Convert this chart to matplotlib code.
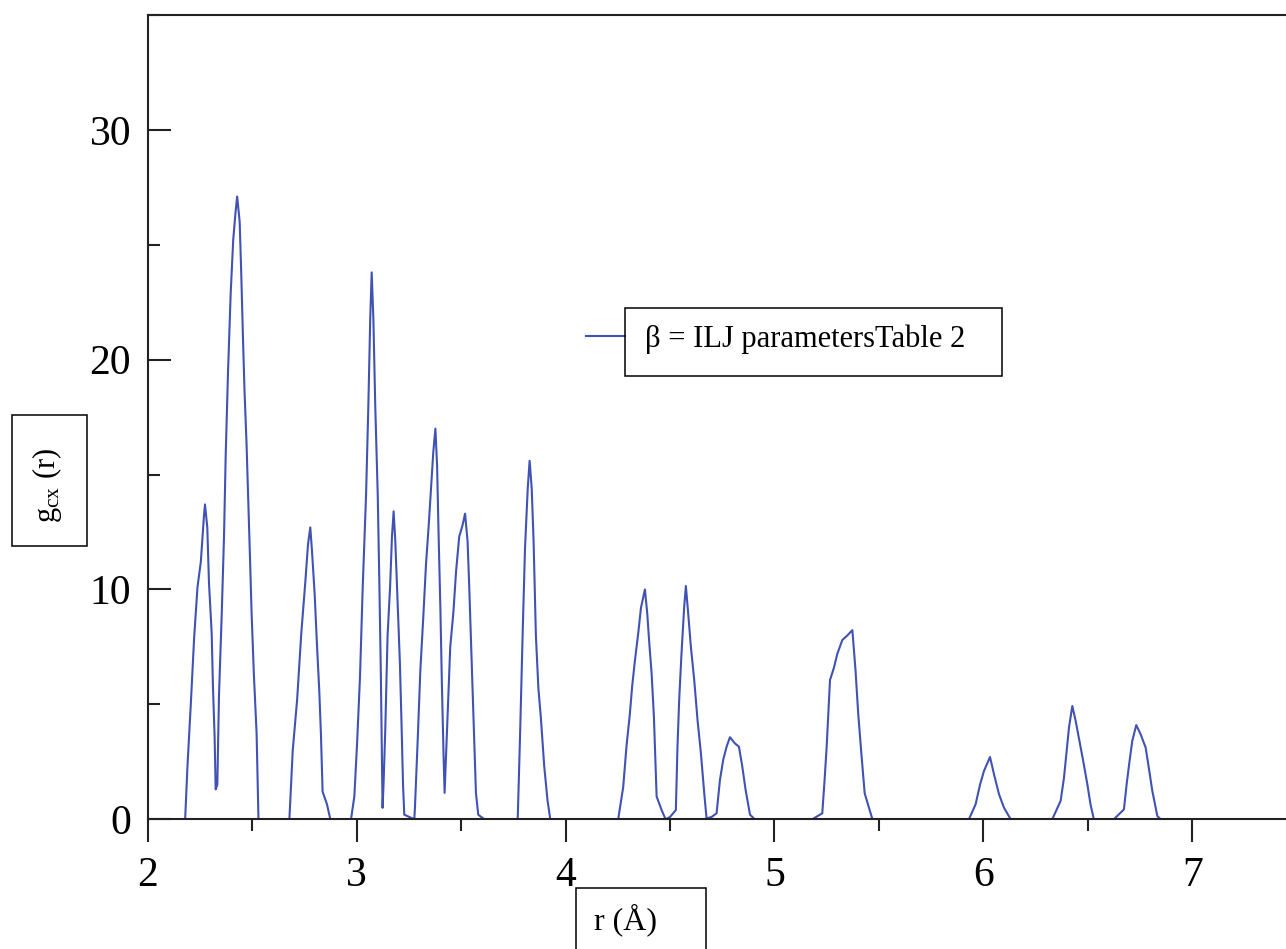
import matplotlib
matplotlib.use('Agg')
import matplotlib.pyplot as plt
from matplotlib.patches import Rectangle
from matplotlib.ticker import MultipleLocator

plt.rcParams['font.family'] = ['Liberation Serif', 'DejaVu Serif']
plt.rcParams['mathtext.fontset'] = 'custom'
plt.rcParams['mathtext.rm'] = 'Liberation Serif'
plt.rcParams['mathtext.it'] = 'Liberation Serif:italic'

r = [2.000, 2.179, 2.190, 2.206, 2.222, 2.238, 2.254, 2.269, 2.274, 2.285, 2.293, 2.306, 2.312, 2.320, 2.325,
     2.333, 2.341, 2.354, 2.365, 2.373, 2.384, 2.397, 2.409, 2.420, 2.428, 2.440, 2.448, 2.455, 2.463, 2.473,
     2.481, 2.489, 2.497, 2.508, 2.521, 2.530,
     2.678, 2.694, 2.715, 2.735, 2.754, 2.767, 2.778, 2.786, 2.799, 2.810, 2.821, 2.829, 2.837, 2.858, 2.874,
     2.973, 2.989, 3.002, 3.016, 3.029, 3.045, 3.056, 3.065, 3.072, 3.080, 3.089, 3.101, 3.109, 3.116, 3.121, 3.124,
     3.129, 3.137, 3.148, 3.160, 3.169, 3.177, 3.185, 3.196, 3.207, 3.215, 3.222, 3.228, 3.276,
     3.279, 3.292, 3.305, 3.319, 3.332, 3.345, 3.356, 3.367, 3.377, 3.385, 3.393, 3.401, 3.408, 3.416, 3.421,
     3.436, 3.448, 3.463, 3.476, 3.491, 3.507, 3.519, 3.531, 3.539, 3.547, 3.555, 3.563, 3.571, 3.582, 3.611,
     3.771, 3.783, 3.795, 3.806, 3.819, 3.828, 3.838, 3.847, 3.858, 3.870, 3.882, 3.898, 3.914, 3.927,
     4.252, 4.276, 4.292, 4.308, 4.319, 4.332, 4.348, 4.361, 4.380, 4.391, 4.401, 4.412, 4.423, 4.436, 4.460, 4.479,
     4.500, 4.528, 4.536, 4.544, 4.555, 4.568, 4.576, 4.587, 4.600, 4.616, 4.632, 4.648, 4.664, 4.675,
     4.699, 4.723, 4.739, 4.755, 4.771, 4.787, 4.811, 4.830, 4.846, 4.862, 4.883, 4.906,
     5.181, 5.229, 5.240, 5.250, 5.258, 5.266, 5.285, 5.301, 5.325, 5.349, 5.373, 5.388, 5.401, 5.416, 5.432, 5.469,
     5.931, 5.963, 5.984, 6.003, 6.032, 6.051, 6.075, 6.099, 6.131,
     6.330, 6.370, 6.386, 6.399, 6.410, 6.426, 6.442, 6.457, 6.478, 6.498, 6.513, 6.529,
     6.625, 6.673, 6.686, 6.700, 6.713, 6.732, 6.753, 6.777, 6.792, 6.809, 6.833, 6.849,
     7.500]
g = [0.0, 0.0, 2.3, 5.0, 7.9, 10.1, 11.2, 13.2, 13.7, 12.7, 10.3, 8.1, 5.8, 3.6, 1.3,
     1.5, 5.4, 8.9, 12.3, 15.8, 19.4, 22.9, 25.2, 26.4, 27.1, 26.0, 23.6, 21.2, 18.7, 16.3,
     13.95, 11.5, 9.0, 6.3, 3.75, 0.0,
     0.0, 3.0, 5.2, 8.1, 10.3, 11.95, 12.7, 11.7, 9.8, 7.6, 5.6, 3.7, 1.2, 0.65, 0.0,
     0.0, 1.0, 3.3, 6.2, 10.1, 14.1, 18.0, 21.8, 23.8, 21.8, 18.0, 14.1, 10.1, 6.2, 2.5, 0.5,
     1.6, 3.9, 8.0, 10.1, 12.3, 13.4, 12.1, 9.4, 6.8, 4.1, 1.5, 0.2, 0.0,
     0.5, 3.4, 6.5, 8.8, 11.1, 12.8, 14.4, 16.0, 17.0, 15.4, 12.1, 9.1, 5.9, 2.8, 1.15,
     4.7, 7.5, 9.0, 10.8, 12.3, 12.8, 13.3, 12.1, 10.1, 7.9, 5.6, 3.4, 1.15, 0.2, 0.0,
     0.0, 3.9, 8.2, 11.8, 14.4, 15.6, 14.4, 12.1, 8.0, 5.7, 4.4, 2.3, 0.8, 0.0,
     0.0, 1.4, 3.2, 4.6, 5.8, 6.9, 8.1, 9.2, 10.0, 8.97, 7.65, 6.35, 4.46, 0.99, 0.4, 0.0,
     0.1, 0.4, 3.2, 5.2, 7.2, 9.25, 10.15, 8.97, 7.5, 6.06, 4.3, 2.87, 1.13, 0.04,
     0.1, 0.26, 1.7, 2.6, 3.16, 3.57, 3.3, 3.16, 2.3, 1.28, 0.2, 0.0,
     0.0, 0.26, 1.7, 3.16, 4.6, 6.06, 6.6, 7.2, 7.8, 8.0, 8.23, 6.5, 4.6, 2.87, 1.13, 0.0,
     0.0, 0.65, 1.5, 2.1, 2.71, 1.96, 1.09, 0.5, 0.0,
     0.0, 0.8, 1.8, 2.97, 3.99, 4.93, 4.28, 3.55, 2.54, 1.52, 0.65, 0.0,
     0.0, 0.43, 1.52, 2.54, 3.41, 4.1, 3.7, 3.12, 2.25, 1.23, 0.14, 0.0,
     0.0]

legend_label = 'β = ILJ parametersTable 2'
x_ticks = [2, 3, 4, 5, 6, 7]
y_ticks = [0, 10, 20, 30]

fig = plt.figure(figsize=(12.86, 9.49), dpi=100)
ax = fig.add_axes([0.1149, 0.1367, 0.8934, 0.8475])

ax.plot(r, g, color='#4052b4', lw=1.5, label=legend_label, zorder=2)

ax.set_xlim(2, 7.5)
ax.set_ylim(0, 35)
ax.set_xticks(x_ticks)
ax.set_yticks(y_ticks)
ax.xaxis.set_minor_locator(MultipleLocator(0.5))
ax.yaxis.set_minor_locator(MultipleLocator(5))

ax.tick_params(axis='x', which='major', direction='out', length=16.5, width=1.5, pad=10, labelsize=30, color='#222222')
ax.tick_params(axis='x', which='minor', direction='out', length=8.5, width=1.5, color='#222222')
ax.tick_params(axis='y', which='major', direction='in', length=16.5, width=1.5, pad=12, labelsize=30, color='#222222')
ax.tick_params(axis='y', which='minor', direction='in', length=8.5, width=1.5, color='#222222')

for side in ['left', 'bottom', 'top']:
    ax.spines[side].set_linewidth(1.5)
    ax.spines[side].set_color('#222222')
    ax.spines[side].set_zorder(3)
ax.spines['right'].set_visible(False)

# legend: line handle outside, box only round the text
leg = ax.legend(loc='center left', bbox_to_anchor=(586 / 1286, 1 - 339 / 949), bbox_transform=fig.transFigure,
                frameon=False, fontsize=22, handlelength=1.28, handletextpad=0.66,
                borderpad=0, borderaxespad=0)
fig.patches.append(Rectangle((625 / 1286, 1 - 375.7 / 949), 376.7 / 1286, 67.4 / 949,
                             transform=fig.transFigure, fill=False, ec='black', lw=1.1))

# axis titles in boxes
fig.text(46.7 / 1286, 1 - 485 / 949, r'$\mathrm{g_{cx}}$ (r)', rotation=90, fontsize=22,
         ha='center', va='center')
fig.patches.append(Rectangle((11.7 / 1286, 1 - 545.7 / 949), 75 / 1286, 130.7 / 949,
                             transform=fig.transFigure, fill=False, ec='black', lw=1.1))

fig.text(626 / 1286, 1 - 920 / 949, 'r (Å)', fontsize=23, ha='center', va='center')
fig.patches.append(Rectangle((575.5 / 1286, -0.01), 130 / 1286, (949 - 888.3) / 949 + 0.01,
                             transform=fig.transFigure, fill=False, ec='black', lw=1.1))

fig.savefig('out.png', dpi=100)
